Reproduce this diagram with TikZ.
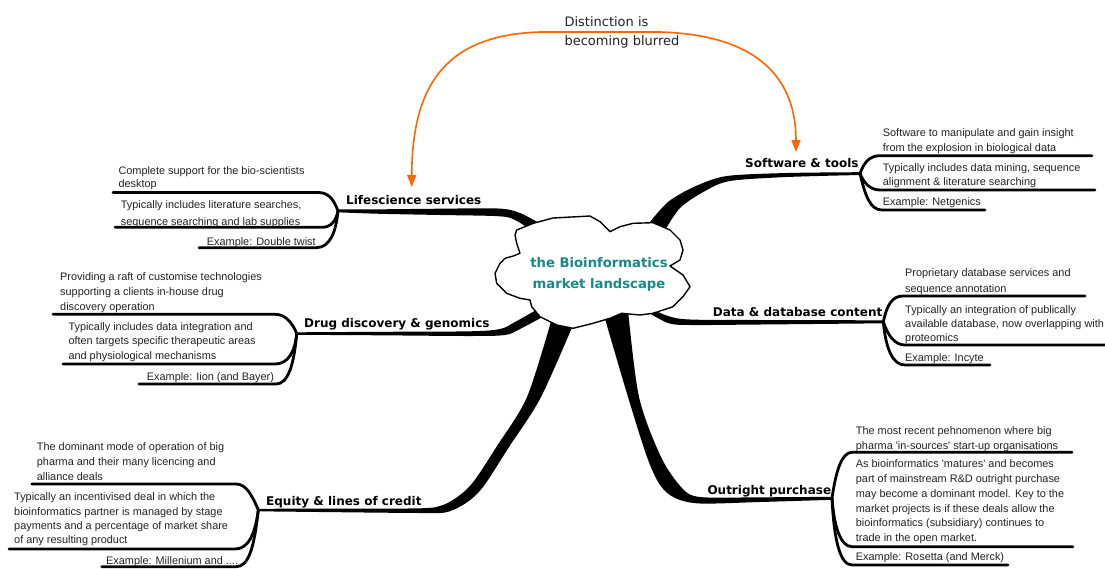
\documentclass[tikz,border=0pt]{standalone}
\usepackage{fontspec}
\setmainfont{Liberation Sans}
\newfontfamily\labelfont{DejaVu Sans}
\usetikzlibrary{arrows.meta}
\definecolor{hubteal}{RGB}{23,137,137}
\definecolor{arrorange}{RGB}{255,102,0}
\definecolor{txt}{RGB}{34,34,34}
\begin{document}
\begin{tikzpicture}[x=1pt,y=-1pt,
  note/.style={anchor=base west,inner sep=0pt,align=left,text=txt,font=\fontsize{10.9}{14.7}\selectfont},
  branchlabel/.style={anchor=base west,inner sep=0pt,text=black,font=\labelfont\bfseries\fontsize{12}{14}\selectfont},
  sub/.style={draw=black,line width=2.8pt,line cap=round,line join=round},
  branch/.style={fill=black},
  cloudline/.style={draw=black,line width=1.4pt,fill=white,line join=round},
  blurarrow/.style={draw=arrorange,line width=1.6pt,{Triangle[length=12pt,width=9pt]}-{Triangle[length=12pt,width=9pt]}}
]
\useasboundingbox (0,0) rectangle (1105,568);

% fork coordinates
\coordinate (lsF) at (338,210.8);
\coordinate (ddF) at (296.7,333.5);
\coordinate (eqF) at (258.3,510);
\coordinate (swF) at (860,173.6);
\coordinate (dbF) at (883.3,321.8);
\coordinate (opF) at (832,498.3);

% ---------- main branches ----------
\fill[branch] (lsF) -- plot[smooth,tension=0.5] coordinates {(338,209.3) (380,209.3) (440,208.7) (498,208.5) (520,213) (548,228)}
  -- plot[smooth,tension=0.5] coordinates {(540,236) (515,220) (498,216.2) (440,215) (380,213.8) (338,212.3)} -- cycle;
\fill[branch] (ddF) -- plot[smooth,tension=0.5] coordinates {(297,332.3) (380,331.8) (470,331.3) (500,329) (515,322) (545,305)}
  -- plot[smooth,tension=0.5] coordinates {(548,314) (520,329) (505,335) (470,336) (380,335.3) (297,334.8)} -- cycle;
\fill[branch] (eqF) -- plot[smooth,tension=0.5] coordinates {(258,508.8) (320,508.6) (420,508.3) (443,505) (460,495) (474,481) (497,446) (527,397) (552,318)}
  -- plot[smooth,tension=0.5] coordinates {(576,318) (541,397) (509,447) (483,487) (466,503) (446,512.3) (420,513) (320,512) (258,511.3)} -- cycle;
\fill[branch] plot[smooth,tension=0.5] coordinates {(603,312) (628,397) (647,457) (660,485) (675,498) (700,503.5) (760,502) (832,499.8)}
  -- (opF) -- plot[smooth,tension=0.5] coordinates {(832,496.8) (760,497.3) (700,497) (682,488) (661,457) (639,397) (628,310)} -- cycle;
\fill[branch] plot[smooth,tension=0.5] coordinates {(645,228) (668,202) (696,186) (727,176) (787,173) (860,172.2)}
  -- (swF) -- plot[smooth,tension=0.5] coordinates {(860,175) (787,177) (730,181) (705,191) (680,208) (664,232)} -- cycle;
\fill[branch] plot[smooth,tension=0.5] coordinates {(645,306) (668,316) (690,319.5) (760,320) (883,320.3)}
  -- (dbF) -- plot[smooth,tension=0.5] coordinates {(883,323.3) (760,324.5) (690,325) (668,323) (646,311)} -- cycle;

% ---------- sub-branches ----------
% Lifescience
\draw[sub] (lsF) .. controls (333,198) and (328,192.5) .. (318,192.5) -- (113,192.5) coordinate (ls1e);
\draw[sub] (lsF) .. controls (336,221) and (331,227.3) .. (322,227.3) -- (115,227.3) coordinate (ls2e);
\draw[sub] (lsF) .. controls (336,232) and (330,247.7) .. (316,247.7) -- (199,247.7) coordinate (ls3e);
% Drug discovery
\draw[sub] (ddF) .. controls (292,322) and (285,314.3) .. (275,314.3) -- (53,314.3) coordinate (dd1e);
\draw[sub] (ddF) .. controls (295,352) and (288,364) .. (275,364) -- (63,364) coordinate (dd2e);
\draw[sub] (ddF) .. controls (294,365) and (288,384) .. (276,384) -- (139,384) coordinate (dd3e);
% Equity
\draw[sub] (eqF) .. controls (252,495) and (246,484) .. (236,484) -- (31.7,484) coordinate (eq1e);
\draw[sub] (eqF) .. controls (255,535) and (248,549) .. (235,549) -- (9,549) coordinate (eq2e);
\draw[sub] (eqF) .. controls (254,550) and (248,566.7) .. (236,566.7) -- (101.7,566.7) coordinate (eq3e);
% Software
\draw[sub] (swF) .. controls (864,162) and (870,155.7) .. (880,155.7) -- (1092,155.7) coordinate (sw1e);
\draw[sub] (swF) .. controls (864,183) and (870,190) .. (880,190) -- (1095,190) coordinate (sw2e);
\draw[sub] (swF) .. controls (865,195) and (870,210) .. (882,210) -- (985,210) coordinate (sw3e);
% Data
\draw[sub] (dbF) .. controls (887,305) and (892,296) .. (903,296) -- (1085,296) coordinate (db1e);
\draw[sub] (dbF) .. controls (888,336) and (895,345) .. (905,345) -- (1105,345) coordinate (db2e);
\draw[sub] (dbF) .. controls (886,350) and (893,365) .. (905,365) -- (990,365) coordinate (db3e);
% Outright
\draw[sub] (opF) .. controls (836,470) and (842,452.3) .. (852,452.3) -- (1072,452.3) coordinate (op1e);
\draw[sub] (opF) .. controls (834,525) and (840,546.7) .. (852,546.7) -- (1073,546.7) coordinate (op2e);
\draw[sub] (opF) .. controls (834,540) and (840,565) .. (852,565) -- (1008,565) coordinate (op3e);

% ---------- cloud ----------
\draw[cloudline] plot coordinates {(516.7,230) (533.3,223.3) (553,218) (590,216) (600,221.7) (610,231.7) (620,226.7) (633,223.3) (653,222.7) (670,230) (680,240) (683,250) (680,260) (670,266) (683,275) (690,286.7) (683,296.7) (673,306.7) (653,313.3) (640,315) (621.7,313.3) (610,318.3) (593,323.3) (573,328.3) (556.7,325) (540,316.7) (531.7,306.7) (530,300) (520,298.3) (506.7,293.3) (496.7,283.3) (495,273.3) (500,263.3) (505,258.3) (513.3,256) (520,253.3) (516.7,243.3) (515,235)} -- cycle;
% multi-line nodes: base anchor sits on the last line
\node[anchor=base,inner sep=0pt,align=center,text=hubteal,font=\labelfont\bfseries\fontsize{13.2}{21}\selectfont] (hub) at (599,288.3) {the Bioinformatics\\market landscape};

% ---------- branch labels ----------
\node[branchlabel] (ls) at (346,204) {Lifescience services};
\node[branchlabel] (dd) at (304,327) {Drug discovery \& genomics};
\node[branchlabel] (eq) at (266,505) {Equity \& lines of credit};
\node[branchlabel] (sw) at (745,167.3) {Software \& tools};
\node[branchlabel] (db) at (712.7,316.7) {Data \& database content};
\node[branchlabel] (op) at (707.3,494) {Outright purchase};

% ---------- notes (y = baseline of last line) ----------
\node[note,font=\fontsize{10.9}{13.7}\selectfont] (ls1) at (118.3,187.7) {Complete support for the bio-scientists\\desktop};
\node[note,font=\fontsize{10.9}{16.7}\selectfont] (ls2) at (120.7,225) {Typically includes literature searches,\\sequence searching and lab supplies};
\node[note] (ls3) at (206.7,245) {Example: Double twist};

\node[note] (dd1) at (60,310.1) {Providing a raft of customise technologies\\supporting a clients in-house drug\\discovery operation};
\node[note] (dd2) at (68.3,359.4) {Typically includes data integration and\\often targets specific therapeutic areas\\and physiological mechanisms};
\node[note] (dd3) at (146.7,380.7) {Example: Iion (and Bayer)};

\node[note] (eq1) at (36.7,480.1) {The dominant mode of operation of big\\pharma and their many licencing and\\alliance deals};
\node[note,font=\fontsize{10.9}{14.4}\selectfont] (eq2) at (14,543.9) {Typically an incentivised deal in which the\\bioinformatics partner is managed by stage\\payments and a percentage of market share\\of any resulting product};
\node[note] (eq3) at (106,564) {Example: Millenium and ....};

\node[note,font=\fontsize{10.9}{14.3}\selectfont] (sw1) at (882.7,151) {Software to manipulate and gain insight\\from the explosion in biological data};
\node[note,font=\fontsize{10.9}{13.5}\selectfont] (sw2) at (882.7,185.2) {Typically includes data mining, sequence\\alignment \& literature searching};
\node[note] (sw3) at (882.7,205) {Example: Netgenics};

\node[note,font=\fontsize{10.9}{15.6}\selectfont] (db1) at (905,292.3) {Proprietary database services and\\sequence annotation};
\node[note,font=\fontsize{10.9}{14.2}\selectfont] (db2) at (905,341.7) {Typically an integration of publically\\available database, now overlapping with\\proteomics};
\node[note] (db3) at (905,361.7) {Example: Incyte};

\node[note,font=\fontsize{10.9}{15}\selectfont] (op1) at (855.7,449) {The most recent pehnomenon where big\\pharma \textquotesingle in-sources\textquotesingle{} start-up organisations};
\node[note,font=\fontsize{10.9}{14.9}\selectfont] (op2) at (855.7,541.8) {As bioinformatics \textquotesingle matures\textquotesingle{} and becomes\\part of mainstream R\&D outright purchase\\may become a dominant model. Key to the\\market projects is if these deals allow the\\bioinformatics (subsidiary) continues to\\trade in the open market.};
\node[note] (op3) at (855.7,560.7) {Example: Rosetta (and Merck)};

% ---------- orange relation ----------
\node[anchor=base west,inner sep=0pt,align=left,text=txt,font=\labelfont\fontsize{13}{19.7}\selectfont] (blur) at (564.3,45.7) {Distinction is\\becoming blurred};
\coordinate (arrL) at (411.7,187);
\coordinate (arrR) at (796,152);
\draw[blurarrow] (arrL) .. controls (412,80) and (450,35) .. (540,32) -- (660,32) .. controls (760,35) and (796,80) .. (arrR);
\end{tikzpicture}
\end{document}
